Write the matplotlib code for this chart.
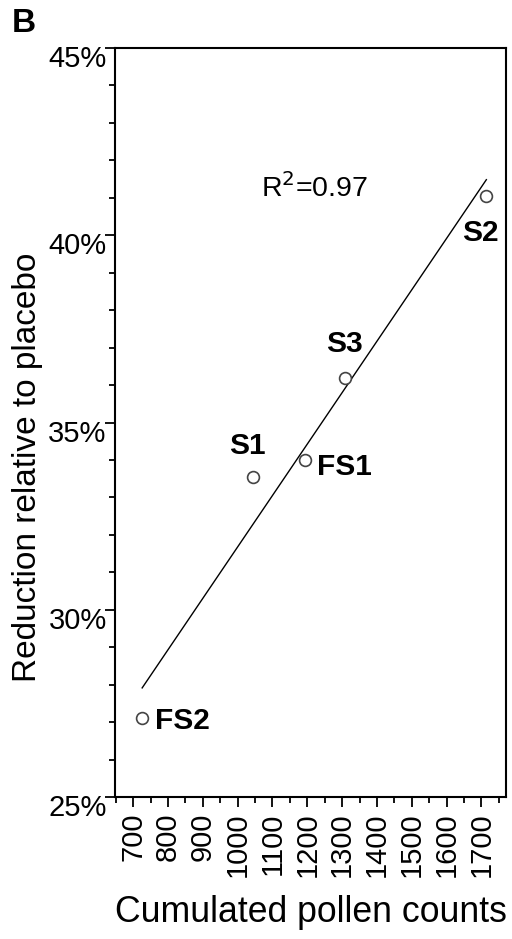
import numpy as np
import matplotlib.pyplot as plt
import matplotlib.transforms as mtransforms
from matplotlib.ticker import MultipleLocator, FuncFormatter

plt.rcParams['font.family'] = ['Liberation Sans', 'DejaVu Sans']

# cumulated pollen counts vs. reduction relative to placebo (%)
labels = ['FS2', 'S1', 'FS1', 'S3', 'S2']
pollen = [726, 1044, 1193, 1307, 1714]
reduction = [27.1, 33.55, 34.0, 36.2, 41.05]
# label offsets in pixels (dx, dy) and horizontal alignment
label_off = [(13, -3, 'left'), (-6, 31, 'center'), (12, -7, 'left'),
             (0, 34, 'center'), (-6, -37, 'center')]

x = np.array(pollen, dtype=float)
y = np.array(reduction, dtype=float)
slope, intercept = np.polyfit(x, y, 1)
r2 = np.corrcoef(x, y)[0, 1] ** 2

fig = plt.figure(figsize=(5.12, 9.39), dpi=100)
ax = fig.add_axes([0.2246, 0.1512, 0.7634, 0.7977])

xs = np.array([x.min(), x.max()])
ax.plot(xs, slope * xs + intercept, color='black', lw=1.0, zorder=2)
ax.plot(x, y, 'o', ms=8.5, mfc='white', mec='#444444', mew=1.2, zorder=3)

for lab, xi, yi, (dx, dy, ha) in zip(labels, x, y, label_off):
    ax.annotate(lab, (xi, yi), xytext=(dx, dy), textcoords='offset pixels',
                ha=ha, va='center', fontsize=21.5, fontweight='bold')

ax.text(1220, 41.26, 'R$^2$=%.2f' % r2, ha='center', va='center', fontsize=20.5)

ax.set_xlim(648, 1770)
ax.set_ylim(25, 45)
ax.xaxis.set_major_locator(MultipleLocator(100))
ax.xaxis.set_minor_locator(MultipleLocator(50))
ax.yaxis.set_major_locator(MultipleLocator(5))
ax.yaxis.set_minor_locator(MultipleLocator(1))
ax.yaxis.set_major_formatter(FuncFormatter(lambda v, p: '%d%%' % v))
ax.tick_params(axis='both', which='major', length=7, width=1.3,
               labelsize=21, direction='out')
ax.tick_params(axis='x', which='major', pad=4)
ax.tick_params(axis='y', which='major', pad=-1)
ax.tick_params(axis='both', which='minor', length=4, width=1.3,
               direction='out')
plt.setp(ax.get_xticklabels(), rotation=90)
# y tick labels sit a little below their ticks
shift = mtransforms.ScaledTranslation(0, -8 / 100, fig.dpi_scale_trans)
for t in ax.get_yticklabels():
    t.set_transform(t.get_transform() + shift)
for s in ax.spines.values():
    s.set_linewidth(1.5)

fig.text(311 / 512, 1 - 922 / 939, 'Cumulated pollen counts', fontsize=25.7,
         ha='center', va='baseline')
fig.text(28 / 512, 1 - 467 / 939, 'Reduction relative to placebo', fontsize=24,
         ha='center', va='center', rotation=90)

fig.text(12 / 512, 1 - 24 / 939, 'B', fontsize=24, fontweight='bold', va='center')

fig.savefig('out.png', dpi=100)
